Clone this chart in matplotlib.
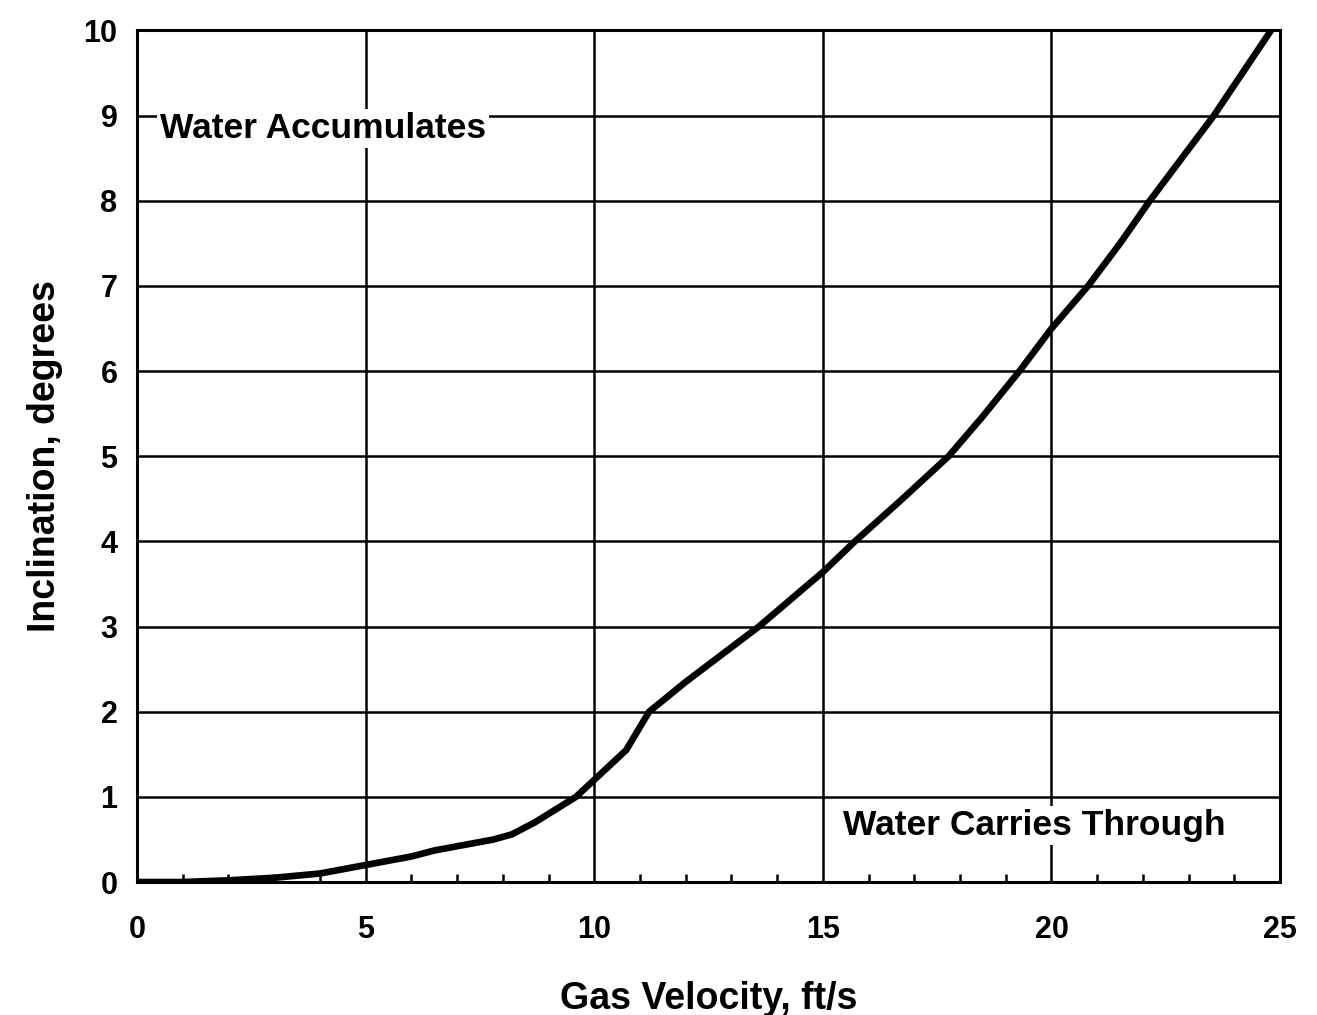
import matplotlib
matplotlib.use("Agg")
import matplotlib.pyplot as plt
import numpy as np

plt.rcParams['font.family'] = ['Liberation Sans', 'DejaVu Sans']

gas_velocity = [0, 1, 2, 3, 4, 5, 6, 6.5, 7, 7.8, 8.2, 8.7, 9.6, 10, 10.7, 11.2,
                12, 13.6, 15, 15.7, 16.7, 17.75, 18.5, 19.3, 20, 20.8, 21.5, 22.15, 23.55, 24.8]
inclination = [0, 0.0, 0.02, 0.05, 0.1, 0.2, 0.3, 0.37, 0.42, 0.5, 0.56, 0.7, 1.0, 1.2, 1.55, 2.0,
               2.35, 3.0, 3.64, 4.0, 4.48, 5.0, 5.47, 6.0, 6.5, 7.0, 7.5, 8.0, 9.0, 10.0]

x_ticks = [0, 5, 10, 15, 20, 25]
y_ticks = list(range(0, 11))

fig = plt.figure(figsize=(13.17, 10.15), dpi=100)
ax = fig.add_axes([0.104, 0.131, 0.868, 0.839])

ax.plot(gas_velocity, inclination, color='black', lw=4.8, solid_capstyle='round',
        solid_joinstyle='round', zorder=3)

ax.set_xlim(0, 25)
ax.set_ylim(0, 10)
ax.set_xticks(x_ticks)
ax.set_yticks(y_ticks)
ax.set_xticks(np.arange(0, 26, 1), minor=True)
ax.grid(True, which='major', color='black', lw=1.8)
ax.tick_params(axis='x', which='major', length=0, pad=24, labelsize=22)
ax.tick_params(axis='y', which='major', length=0, pad=14, labelsize=22)
ax.tick_params(axis='x', which='minor', direction='in', length=6, width=1.8)
ax.tick_params(axis='y', which='minor', length=0)
for lab in ax.get_xticklabels() + ax.get_yticklabels():
    lab.set_fontweight('bold')
for s in ax.spines.values():
    s.set_linewidth(2.2)
    s.set_color('black')

ax.set_xlabel('Gas Velocity, ft/s', fontsize=27, fontweight='bold', labelpad=26)
ax.set_ylabel('Inclination, degrees', fontsize=27, fontweight='bold', labelpad=15)

ax.text(0.5, 8.85, 'Water Accumulates', fontsize=25.5, fontweight='bold', va='center', ha='left',
        bbox=dict(facecolor='white', edgecolor='none', pad=2), zorder=4)
ax.text(15.45, 0.66, 'Water Carries Through', fontsize=25.5, fontweight='bold', va='center', ha='left',
        bbox=dict(facecolor='white', edgecolor='none', pad=2), zorder=4)

fig.savefig('out.png', dpi=100)
